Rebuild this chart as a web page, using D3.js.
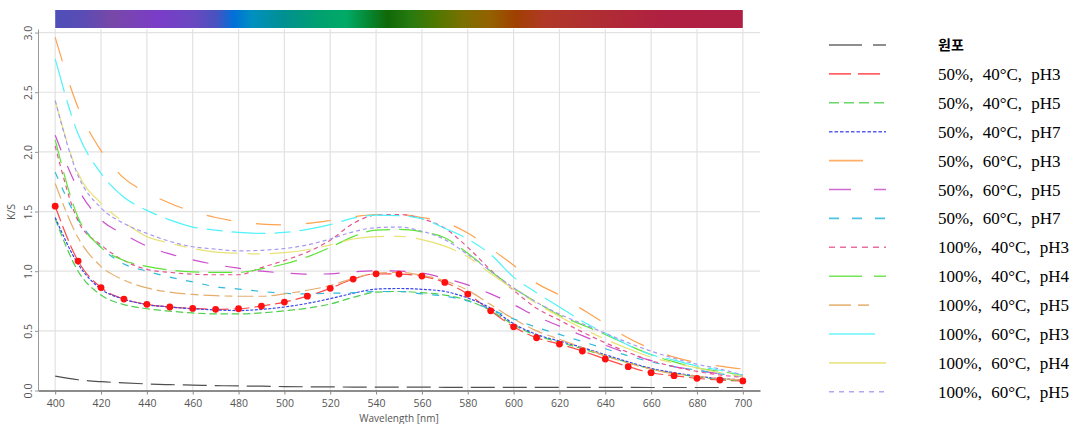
<!DOCTYPE html>
<html>
<head>
<meta charset="utf-8">
<script src="https://cdn.jsdelivr.net/npm/d3@7"></script>
<style>
body { margin: 0; background: #fff; }
svg { display: block; }
</style>
</head>
<body>
<script>
// wavelength grid (nm)
var wavelengths = [400, 410, 420, 430, 440, 450, 460, 470, 480, 490, 500, 510, 520, 530, 540, 550,
                   560, 570, 580, 590, 600, 610, 620, 630, 640, 650, 660, 670, 680, 690, 700];

// K/S values, one per wavelength
var raw        = [0.12, 0.09, 0.074, 0.064, 0.055, 0.049, 0.045, 0.041, 0.038, 0.036, 0.033, 0.031, 0.030, 0.029, 0.028, 0.028,
                  0.028, 0.027, 0.027, 0.027, 0.027, 0.026, 0.026, 0.026, 0.026, 0.026, 0.025, 0.025, 0.025, 0.025, 0.025];
var s50_40_pH3 = [1.545, 1.085, 0.863, 0.766, 0.722, 0.700, 0.688, 0.680, 0.685, 0.708, 0.741, 0.791, 0.856, 0.934, 0.978, 0.976,
                  0.959, 0.906, 0.808, 0.668, 0.534, 0.442, 0.389, 0.331, 0.264, 0.200, 0.149, 0.124, 0.102, 0.088, 0.080];
var s50_40_pH5 = [1.44, 1.00, 0.80, 0.72, 0.685, 0.665, 0.65, 0.642, 0.642, 0.65, 0.668, 0.69, 0.725, 0.78, 0.825, 0.83,
                  0.82, 0.80, 0.755, 0.67, 0.55, 0.46, 0.405, 0.35, 0.29, 0.235, 0.18, 0.145, 0.115, 0.095, 0.085];
var s50_40_pH7 = [1.45, 1.06, 0.85, 0.765, 0.72, 0.70, 0.685, 0.675, 0.670, 0.68, 0.70, 0.73, 0.77, 0.815, 0.85, 0.855,
                  0.848, 0.83, 0.775, 0.69, 0.56, 0.47, 0.415, 0.36, 0.30, 0.24, 0.185, 0.15, 0.12, 0.10, 0.09];
var s50_60_pH3 = [2.96, 2.37, 2.01, 1.78, 1.66, 1.57, 1.50, 1.45, 1.415, 1.395, 1.388, 1.40, 1.425, 1.455, 1.475, 1.475,
                  1.45, 1.41, 1.32, 1.19, 1.05, 0.90, 0.80, 0.68, 0.56, 0.44, 0.35, 0.28, 0.235, 0.205, 0.18];
var s50_60_pH5 = [2.14, 1.69, 1.43, 1.31, 1.21, 1.145, 1.095, 1.055, 1.025, 1.00, 0.985, 0.975, 0.978, 0.995, 1.003, 1.0,
                  0.985, 0.94, 0.885, 0.81, 0.72, 0.62, 0.54, 0.46, 0.38, 0.31, 0.25, 0.20, 0.17, 0.14, 0.12];
var s50_60_pH7 = [1.83, 1.43, 1.20, 1.06, 1.00, 0.95, 0.91, 0.87, 0.85, 0.83, 0.815, 0.81, 0.815, 0.82, 0.83, 0.83,
                  0.81, 0.79, 0.75, 0.68, 0.60, 0.53, 0.47, 0.41, 0.35, 0.29, 0.24, 0.20, 0.17, 0.14, 0.12];
var s100_40_pH3 = [2.05, 1.42, 1.22, 1.09, 1.015, 0.99, 0.975, 0.97, 0.97, 1.03, 1.09, 1.16, 1.26, 1.40, 1.47, 1.475,
                   1.44, 1.36, 1.20, 1.01, 0.84, 0.69, 0.59, 0.49, 0.40, 0.32, 0.25, 0.20, 0.16, 0.13, 0.11];
var s100_40_pH4 = [2.10, 1.45, 1.20, 1.09, 1.04, 1.01, 0.995, 0.99, 0.99, 1.02, 1.06, 1.12, 1.20, 1.29, 1.345, 1.35,
                   1.33, 1.28, 1.15, 1.00, 0.86, 0.74, 0.63, 0.55, 0.47, 0.38, 0.30, 0.24, 0.19, 0.16, 0.13];
var s100_40_pH5 = [1.735, 1.28, 1.04, 0.925, 0.86, 0.825, 0.805, 0.795, 0.79, 0.79, 0.81, 0.84, 0.88, 0.94, 0.98, 0.99,
                   0.965, 0.92, 0.84, 0.72, 0.60, 0.50, 0.43, 0.36, 0.29, 0.23, 0.18, 0.14, 0.12, 0.10, 0.09];
var s100_60_pH3 = [2.78, 2.15, 1.82, 1.62, 1.51, 1.43, 1.37, 1.345, 1.325, 1.317, 1.325, 1.35, 1.39, 1.445, 1.47, 1.465,
                   1.44, 1.36, 1.27, 1.14, 0.95, 0.82, 0.70, 0.58, 0.48, 0.38, 0.30, 0.255, 0.205, 0.17, 0.13];
var s100_60_pH4 = [2.43, 1.82, 1.57, 1.41, 1.29, 1.235, 1.19, 1.16, 1.15, 1.145, 1.155, 1.18, 1.22, 1.27, 1.29, 1.292,
                   1.265, 1.21, 1.12, 0.98, 0.85, 0.73, 0.62, 0.52, 0.43, 0.35, 0.28, 0.23, 0.19, 0.15, 0.12];
var s100_60_pH5 = [2.43, 1.80, 1.53, 1.40, 1.317, 1.25, 1.205, 1.185, 1.17, 1.175, 1.19, 1.22, 1.27, 1.33, 1.365, 1.37,
                   1.335, 1.265, 1.14, 1.00, 0.86, 0.74, 0.64, 0.56, 0.48, 0.40, 0.33, 0.27, 0.22, 0.18, 0.13];

var seriesNames = ["원포", "50%, 40°C, pH3", "50%, 40°C, pH5", "50%, 40°C, pH7", "50%, 60°C, pH3", "50%, 60°C, pH5",
                   "50%, 60°C, pH7", "100%, 40°C, pH3", "100%, 40°C, pH4", "100%, 40°C, pH5", "100%, 60°C, pH3",
                   "100%, 60°C, pH4", "100%, 60°C, pH5"];
var seriesValues = [raw, s50_40_pH3, s50_40_pH5, s50_40_pH7, s50_60_pH3, s50_60_pH5, s50_60_pH7,
                    s100_40_pH3, s100_40_pH4, s100_40_pH5, s100_60_pH3, s100_60_pH4, s100_60_pH5];

var xTicks = [400, 420, 440, 460, 480, 500, 520, 540, 560, 580, 600, 620, 640, 660, 680, 700];
var yTicks = [0, 0.5, 1.0, 1.5, 2.0, 2.5, 3.0];

// line styles (chart dashes and legend dashes differ in scale)
var colors = ["#505050", "#ff4a4a", "#4fcf4f", "#3a46ea", "#ffa24e", "#cc4fcc", "#2fbadc",
              "#e65590", "#5ee238", "#e4ad6c", "#4ff3fa", "#e8e276", "#a898f0"];
var chartDash = ["24,8", "16,5", "7.5,3.7", "3,1.5", "25,25", "16,17", "7,9.5",
                 "4.5,3.7", "24,9", "16,5,8,5", "34,9,16,9", "42,10,12,10", "4,3"];
var legendDash = ["33,11", "22,7", "10,5", "3.5,2", "34,40", "22,23", "10,13",
                  "6,5", "33,12", "22,7,11,20", "46,20", "57,1", "5,5"];

// visible spectrum strip colours
var bandStops = [[400, "#4f4fb9"], [412, "#5a4cb4"], [425, "#7848a8"], [445, "#7a3cc8"], [460, "#6a48c0"],
                 [470, "#4a52c0"], [478, "#0070d8"], [486, "#0090c0"], [500, "#009090"], [515, "#00a070"],
                 [527, "#00aa66"], [536, "#058a35"], [545, "#106808"], [555, "#287a10"], [566, "#4e7800"],
                 [578, "#7a7000"], [590, "#946000"], [601, "#a04000"], [614, "#b03828"], [630, "#b03030"],
                 [648, "#b02838"], [665, "#b02042"], [700, "#b02045"]];

var W = 1082, H = 424;

var svg = d3.select("body").append("svg")
    .attr("width", W)
    .attr("height", H)
    .style("font-family", "'Open Sans', 'DejaVu Sans', sans-serif");

var x = d3.scaleLinear().domain([392.5, 707.5]).range([38, 760]);
var y = d3.scaleLinear().domain([0, 3.03]).range([390.5, 29]);

// spectrum strip
var grad = svg.append("defs").append("linearGradient")
    .attr("id", "spectrum")
    .attr("gradientUnits", "userSpaceOnUse")
    .attr("x1", x(400)).attr("x2", x(700))
    .attr("y1", 0).attr("y2", 0);
grad.selectAll("stop").data(bandStops).enter().append("stop")
    .attr("offset", function (d) { return (d[0] - 400) / 300; })
    .attr("stop-color", function (d) { return d[1]; });

svg.append("rect")
    .attr("x", x(400)).attr("y", 10)
    .attr("width", x(700) - x(400)).attr("height", 18)
    .style("fill", "url(#spectrum)");

// grid
svg.append("g").selectAll("line").data(xTicks).enter().append("line")
    .attr("x1", function (d) { return x(d); }).attr("x2", function (d) { return x(d); })
    .attr("y1", y(3.03)).attr("y2", y(0))
    .style("stroke", "#e2e2e2").style("stroke-width", 1.2);
svg.append("g").selectAll("line").data(yTicks.slice(1)).enter().append("line")
    .attr("x1", 38).attr("x2", 760)
    .attr("y1", function (d) { return y(d); }).attr("y2", function (d) { return y(d); })
    .style("stroke", "#e2e2e2").style("stroke-width", 1.2);

// axes
var xAxis = svg.append("g")
    .attr("transform", "translate(0," + y(0) + ")")
    .call(d3.axisBottom(x).tickValues(xTicks).tickSize(4).tickSizeOuter(0).tickPadding(5));
xAxis.select(".domain").style("stroke", "#666").style("stroke-width", 1.5);
xAxis.selectAll(".tick line").style("stroke", "#888");
xAxis.selectAll("text").style("font-size", "10.5px").style("fill", "#555")
    .style("font-family", "'Open Sans', sans-serif");

var yAxis = svg.append("g")
    .attr("transform", "translate(38,0)")
    .call(d3.axisLeft(y).tickValues(yTicks).tickSize(3).tickSizeOuter(0).tickFormat(d3.format(".1f")));
yAxis.select(".domain").style("stroke", "#999");
yAxis.selectAll(".tick line").style("stroke", "#999");
yAxis.selectAll("text")
    .attr("transform", "rotate(-90)")
    .attr("x", 0).attr("y", -6).attr("dy", 0)
    .style("text-anchor", "middle")
    .style("font-size", "10.5px").style("fill", "#555")
    .style("font-family", "'Open Sans', sans-serif");

svg.append("text")
    .attr("transform", "translate(15,212) rotate(-90)")
    .attr("text-anchor", "middle")
    .style("font-size", "10.5px").style("fill", "#555")
    .text("K/S");

svg.append("text")
    .attr("x", 399).attr("y", 421.5)
    .attr("text-anchor", "middle")
    .style("font-size", "10px").style("fill", "#555")
    .text("Wavelength [nm]");

// curves
var line = d3.line()
    .x(function (d) { return x(d[0]); })
    .y(function (d) { return y(d[1]); })
    .curve(d3.curveMonotoneX);

var plot = svg.append("g");
seriesValues.forEach(function (vals, i) {
    var pts = wavelengths.map(function (w, j) { return [w, vals[j]]; });
    plot.append("path")
        .datum(pts)
        .attr("d", line)
        .style("fill", "none")
        .style("stroke", colors[i])
        .style("stroke-width", 1.2)
        .style("stroke-dasharray", chartDash[i]);
});

// highlighted series markers
plot.selectAll("circle.mk")
    .data(wavelengths.map(function (w, j) { return [w, s50_40_pH3[j]]; }))
    .enter().append("circle")
    .attr("class", "mk")
    .attr("cx", function (d) { return x(d[0]); })
    .attr("cy", function (d) { return y(d[1]); })
    .attr("r", 3.4)
    .style("fill", "#ff1010");

// legend
var legend = svg.append("g");
seriesNames.forEach(function (name, i) {
    var ly = 45 + i * 28.9;
    legend.append("line")
        .attr("x1", 829).attr("x2", 886)
        .attr("y1", ly).attr("y2", ly)
        .style("stroke", colors[i])
        .style("stroke-width", 1.6)
        .style("opacity", 0.85)
        .style("stroke-dasharray", legendDash[i]);
    var t = legend.append("text")
        .attr("x", 938).attr("y", ly + 6)
        .style("fill", "#000")
        .text(name);
    if (i === 0) {
        t.style("font-family", "'Noto Sans CJK KR', sans-serif")
            .style("font-weight", "bold").style("font-size", "14px").attr("y", ly + 5);
    } else {
        t.style("font-family", "'Liberation Serif', serif")
            .style("font-size", "17px").style("word-spacing", "5px");
    }
});
</script>
</body>
</html>
